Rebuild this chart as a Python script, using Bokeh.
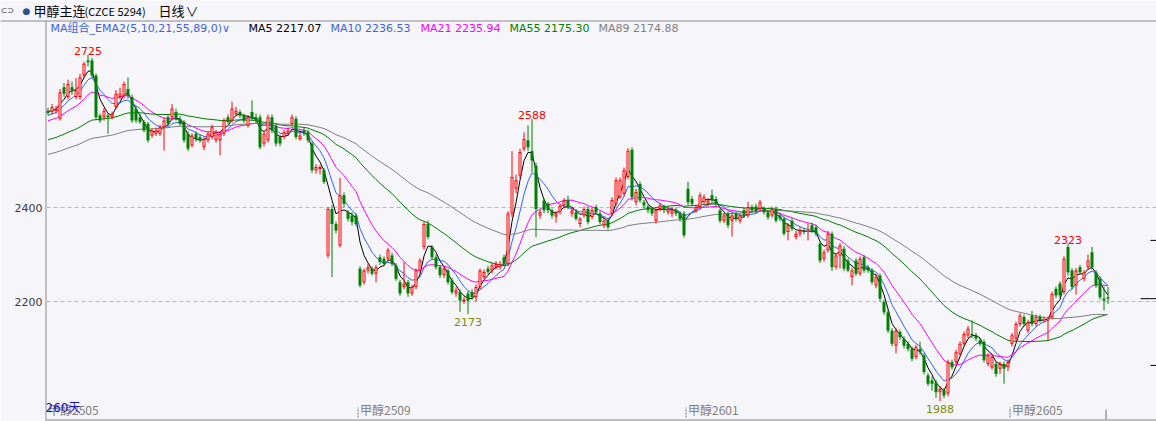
import numpy as np
from bokeh.plotting import figure
from bokeh.models import Range1d, Label, ColumnDataSource, Span
from bokeh.core.properties import value
from bokeh.embed import file_html
from bokeh.resources import INLINE

# ---------------- data (daily candles) ----------------
open_ = [2606, 2603, 2606, 2589, 2656, 2635, 2656, 2635, 2635, 2681,
         2713, 2713, 2681, 2596, 2592, 2596, 2592, 2614, 2635, 2638,
         2652, 2635, 2610, 2592, 2582, 2578, 2553, 2557, 2557, 2571,
         2592, 2592, 2603, 2589, 2582, 2557, 2532, 2557, 2550, 2528,
         2543, 2550, 2543, 2543, 2557, 2592, 2585, 2599, 2603, 2596,
         2574, 2603, 2592, 2592, 2536, 2543, 2592, 2574, 2550, 2550,
         2557, 2578, 2589, 2546, 2564, 2560, 2536, 2479, 2482, 2479,
         2298, 2397, 2365, 2319, 2426, 2390, 2383, 2383, 2270, 2241,
         2266, 2270, 2259, 2294, 2291, 2291, 2298, 2277, 2241, 2231,
         2241, 2217, 2231, 2266, 2316, 2365, 2316, 2294, 2273, 2256,
         2266, 2245, 2217, 2220, 2200, 2217, 2220, 2209, 2231, 2252,
         2270, 2266, 2273, 2273, 2294, 2280, 2387, 2440, 2468, 2525,
         2543, 2520, 2489, 2383, 2415, 2408, 2394, 2381, 2390, 2404,
         2416, 2387, 2390, 2365, 2383, 2397, 2380, 2401, 2387, 2362,
         2372, 2387, 2408, 2422, 2429, 2465, 2523, 2411, 2450, 2411,
         2402, 2397, 2372, 2397, 2401, 2390, 2387, 2394, 2387, 2387,
         2440, 2418, 2394, 2401, 2411, 2408, 2426, 2418, 2394, 2372,
         2387, 2372, 2387, 2372, 2394, 2383, 2401, 2402, 2397, 2397,
         2390, 2383, 2397, 2383, 2376, 2348, 2372, 2337, 2344, 2351,
         2350, 2362, 2358, 2323, 2291, 2309, 2344, 2273, 2298, 2312,
         2287, 2252, 2287, 2259, 2294, 2273, 2266, 2234, 2255, 2199,
         2177, 2138, 2106, 2135, 2121, 2110, 2099, 2082, 2099, 2085,
         2043, 2032, 2028, 2007, 2011, 2004, 2071, 2071, 2088, 2110,
         2128, 2131, 2128, 2117, 2114, 2067, 2060, 2067, 2057, 2067,
         2060, 2110, 2121, 2152, 2167, 2138, 2170, 2152, 2167, 2160,
         2160, 2167, 2227, 2238, 2220, 2316, 2266, 2234, 2273, 2248,
         2273, 2305, 2262, 2248, 2206, 2209]
high = [2612, 2620, 2616, 2652, 2665, 2672, 2668, 2675, 2684, 2710,
        2725, 2718, 2685, 2600, 2612, 2600, 2604, 2650, 2655, 2668,
        2677, 2640, 2615, 2598, 2586, 2582, 2568, 2570, 2576, 2590,
        2598, 2620, 2610, 2594, 2586, 2562, 2558, 2562, 2555, 2550,
        2562, 2576, 2565, 2562, 2590, 2598, 2625, 2614, 2608, 2600,
        2597, 2628, 2600, 2598, 2562, 2598, 2598, 2580, 2555, 2565,
        2570, 2598, 2594, 2560, 2570, 2565, 2540, 2492, 2490, 2484,
        2401, 2405, 2370, 2463, 2432, 2395, 2390, 2388, 2275, 2270,
        2280, 2275, 2278, 2300, 2296, 2314, 2304, 2282, 2246, 2284,
        2246, 2236, 2270, 2292, 2370, 2372, 2320, 2300, 2278, 2275,
        2270, 2250, 2230, 2226, 2210, 2222, 2226, 2236, 2270, 2268,
        2276, 2282, 2286, 2286, 2300, 2392, 2520, 2470, 2525, 2560,
        2575, 2588, 2495, 2396, 2420, 2412, 2398, 2392, 2408, 2420,
        2425, 2400, 2396, 2380, 2402, 2402, 2400, 2406, 2392, 2378,
        2377, 2422, 2464, 2464, 2485, 2526, 2528, 2440, 2455, 2416,
        2407, 2402, 2398, 2410, 2406, 2403, 2400, 2400, 2392, 2392,
        2455, 2424, 2406, 2432, 2428, 2420, 2438, 2424, 2398, 2388,
        2392, 2388, 2392, 2388, 2400, 2412, 2406, 2408, 2416, 2402,
        2395, 2402, 2402, 2388, 2381, 2367, 2377, 2350, 2358, 2356,
        2365, 2368, 2363, 2328, 2310, 2350, 2349, 2303, 2324, 2318,
        2292, 2272, 2292, 2296, 2299, 2278, 2271, 2258, 2260, 2204,
        2182, 2143, 2143, 2140, 2126, 2115, 2104, 2108, 2115, 2090,
        2048, 2040, 2033, 2020, 2016, 2076, 2076, 2097, 2115, 2136,
        2148, 2160, 2133, 2122, 2119, 2090, 2087, 2072, 2072, 2072,
        2076, 2133, 2157, 2175, 2172, 2161, 2180, 2172, 2172, 2168,
        2168, 2221, 2232, 2243, 2296, 2323, 2271, 2271, 2278, 2267,
        2300, 2316, 2267, 2253, 2231, 2231]
low = [2596, 2598, 2600, 2585, 2636, 2630, 2640, 2630, 2630, 2675,
       2700, 2675, 2588, 2580, 2585, 2557, 2588, 2610, 2630, 2632,
       2632, 2580, 2580, 2578, 2560, 2538, 2548, 2552, 2552, 2521,
       2574, 2588, 2585, 2574, 2538, 2520, 2528, 2540, 2538, 2522,
       2538, 2545, 2538, 2511, 2552, 2578, 2580, 2594, 2590, 2580,
       2570, 2585, 2580, 2524, 2530, 2538, 2558, 2530, 2530, 2545,
       2552, 2574, 2545, 2542, 2552, 2538, 2474, 2472, 2470, 2450,
       2292, 2252, 2345, 2315, 2400, 2370, 2362, 2360, 2230, 2236,
       2260, 2255, 2241, 2278, 2275, 2286, 2275, 2244, 2212, 2226,
       2210, 2212, 2226, 2260, 2310, 2332, 2290, 2268, 2250, 2250,
       2236, 2215, 2210, 2178, 2195, 2173, 2204, 2200, 2226, 2248,
       2258, 2260, 2268, 2268, 2275, 2275, 2380, 2430, 2462, 2520,
       2520, 2475, 2337, 2376, 2388, 2388, 2376, 2368, 2385, 2398,
       2396, 2380, 2372, 2358, 2378, 2364, 2375, 2385, 2364, 2356,
       2353, 2382, 2402, 2418, 2424, 2460, 2415, 2405, 2410, 2398,
       2388, 2382, 2366, 2392, 2388, 2385, 2380, 2382, 2370, 2336,
       2405, 2403, 2389, 2396, 2406, 2403, 2410, 2403, 2367, 2367,
       2356, 2338, 2370, 2366, 2378, 2378, 2389, 2388, 2392, 2385,
       2374, 2378, 2368, 2371, 2340, 2330, 2350, 2332, 2338, 2343,
       2330, 2346, 2339, 2282, 2285, 2304, 2265, 2268, 2270, 2265,
       2262, 2234, 2254, 2254, 2261, 2261, 2236, 2228, 2200, 2172,
       2133, 2105, 2090, 2118, 2100, 2094, 2073, 2077, 2087, 2045,
       2020, 2010, 1995, 1988, 1994, 1998, 2055, 2066, 2083, 2105,
       2122, 2122, 2116, 2105, 2070, 2062, 2055, 2040, 2046, 2025,
       2052, 2104, 2116, 2147, 2147, 2133, 2147, 2147, 2155, 2155,
       2117, 2162, 2208, 2208, 2215, 2255, 2226, 2215, 2257, 2243,
       2268, 2268, 2229, 2204, 2181, 2195]
close = [2601, 2614, 2610, 2645, 2642, 2663, 2649, 2649, 2677, 2706,
         2709, 2681, 2592, 2585, 2606, 2592, 2599, 2642, 2642, 2663,
         2638, 2585, 2585, 2582, 2564, 2543, 2564, 2564, 2571, 2585,
         2578, 2610, 2589, 2578, 2543, 2525, 2553, 2546, 2543, 2546,
         2557, 2571, 2560, 2557, 2585, 2582, 2610, 2606, 2596, 2585,
         2592, 2589, 2585, 2528, 2557, 2592, 2564, 2536, 2536, 2560,
         2564, 2592, 2550, 2553, 2557, 2543, 2479, 2486, 2486, 2454,
         2397, 2365, 2351, 2426, 2408, 2376, 2369, 2365, 2234, 2266,
         2273, 2259, 2273, 2284, 2280, 2309, 2280, 2248, 2217, 2238,
         2217, 2231, 2266, 2287, 2365, 2337, 2294, 2273, 2256, 2270,
         2241, 2220, 2224, 2202, 2204, 2202, 2209, 2231, 2266, 2263,
         2263, 2277, 2280, 2280, 2280, 2387, 2465, 2458, 2518, 2546,
         2528, 2500, 2397, 2390, 2394, 2394, 2383, 2387, 2403, 2415,
         2401, 2394, 2376, 2376, 2397, 2369, 2394, 2390, 2369, 2372,
         2358, 2416, 2458, 2458, 2479, 2521, 2422, 2433, 2415, 2404,
         2394, 2387, 2394, 2404, 2394, 2397, 2394, 2387, 2376, 2341,
         2411, 2408, 2401, 2426, 2422, 2415, 2415, 2408, 2372, 2383,
         2362, 2383, 2376, 2383, 2383, 2401, 2394, 2394, 2411, 2390,
         2379, 2397, 2372, 2376, 2344, 2362, 2355, 2344, 2351, 2348,
         2350, 2351, 2344, 2287, 2305, 2344, 2273, 2298, 2319, 2270,
         2266, 2266, 2259, 2291, 2266, 2266, 2241, 2253, 2206, 2177,
         2138, 2110, 2138, 2124, 2106, 2099, 2078, 2103, 2092, 2050,
         2025, 2025, 2007, 2014, 2000, 2071, 2060, 2092, 2110, 2131,
         2142, 2128, 2121, 2110, 2075, 2085, 2082, 2046, 2067, 2057,
         2071, 2128, 2152, 2170, 2152, 2156, 2152, 2167, 2160, 2163,
         2163, 2216, 2213, 2213, 2291, 2262, 2231, 2266, 2262, 2262,
         2287, 2273, 2234, 2209, 2202, 2206]

# linearly weighted moving averages; pre_levels = level of the closes before the window
ma_periods = [5, 10, 21, 55, 89]
ma_pre_levels = [2605, 2595, 2583, 2542, 2511]
ma_colors = ["#000000", "#2f64f5", "#ff00ff", "#008000", "#808080"]
legend_texts = ["MA5 2217.07", "MA10 2236.53", "MA21 2235.94", "MA55 2175.30", "MA89 2174.88"]
legend_colors = ["#000000", "#3c64dc", "#ff00ff", "#008000", "#808080"]
legend_title = "MA组合_EMA2(5,10,21,55,89,0)∨"

contract_labels = ["甲醇2505", "甲醇2509", "甲醇2601", "甲醇2605"]
contract_start = [0, 78, 160, 241]
peak_values = [2725, 2588, 2323]
trough_values = [2173, 1988]
right_marks = [2330, 2206, 2064]
y_ticks = [2200, 2400]
days_text = "260天"
header_name = "甲醇主连"
header_code = "(CZCE 5294)"
header_period = "日线"

# ---------------- layout ----------------
BG = "#f5f5fa"
RED = "#ff0000"
GRN = "#008000"
AX = "#8c8c8c"
W, H = 1156, 421
PXX, PXY = 4.0, 0.47           # px per candle, px per price point
X0 = -47.5 / PXX
X1 = X0 + W / PXX
Y1 = 2400 + 207 / PXY
Y0 = Y1 - H / PXY


def xd(px):
    return X0 + px / PXX


def yd(py):
    return Y1 - py / PXY


o = np.array(open_, float); hi = np.array(high, float)
lo = np.array(low, float); c = np.array(close, float)
n = len(c)
idx = np.arange(n)
inc = c >= o
dec = ~inc
top = np.maximum(o, c); bot = np.minimum(o, c)
mid = (top + bot) / 2
thin = (top - bot) < 1.0 / PXY
top = np.where(thin, mid + 0.5 / PXY, top)
bot = np.where(thin, mid - 0.5 / PXY, bot)

p = figure(width=W, height=H, output_backend="svg", toolbar_location=None,
           x_range=Range1d(X0, X1), y_range=Range1d(Y0, Y1),
           x_axis_location=None, y_axis_location=None,
           min_border=0, background_fill_color=BG, border_fill_color=BG,
           outline_line_color=None)
p.grid.visible = False

# frame lines: header separator, left price-axis line, bottom line
p.add_layout(Span(location=yd(20.5), dimension="width", line_color=AX, line_width=1))
p.segment(x0=[xd(45.5)], y0=[yd(20.5)], x1=[xd(45.5)], y1=[yd(419.5)], line_color=AX, line_width=1)
p.segment(x0=[xd(45)], y0=[yd(419.5)], x1=[X1], y1=[yd(419.5)], line_color=AX, line_width=1)

# price grid + labels
p.segment(x0=[xd(46)] * len(y_ticks), y0=y_ticks, x1=[X1] * len(y_ticks), y1=y_ticks,
          line_color="#b9b9bd", line_dash="4 3", line_width=1)
for t in y_ticks:
    p.add_layout(Label(x=42, y=t, x_units="screen", y_units="data", text=str(t),
                       text_font="DejaVu Sans", text_font_size="11px", text_color="#3a3a3a",
                       text_align="right", text_baseline="middle"))

# moving averages
for per, lvl, col in zip(ma_periods, ma_pre_levels, ma_colors):
    ext = np.concatenate([np.full(per - 1, float(lvl)), c])
    w = np.arange(per, 0, -1, dtype=float)
    vals = np.convolve(ext, w, mode="valid") / w.sum()
    p.line(idx, vals, line_color=col, line_width=1)

# candles
s_inc = ColumnDataSource(dict(x=idx[inc], t=top[inc], b=bot[inc], h=hi[inc], l=lo[inc],
                              ti=top[inc] - 1.0 / PXY, bi=bot[inc] + 1.0 / PXY))
s_dec = ColumnDataSource(dict(x=idx[dec], t=top[dec], b=bot[dec], h=hi[dec], l=lo[dec]))
p.segment(x0="x", y0="h", x1="x", y1="l", source=s_inc, line_color=RED, line_width=1)
p.segment(x0="x", y0="h", x1="x", y1="l", source=s_dec, line_color=GRN, line_width=1)
p.vbar(x="x", width=0.75, top="t", bottom="b", source=s_inc, fill_color=RED, line_alpha=0)
p.vbar(x="x", width=0.25, top="ti", bottom="bi", source=s_inc, fill_color=BG, line_alpha=0)
p.vbar(x="x", width=0.75, top="t", bottom="b", source=s_dec, fill_color=GRN, line_alpha=0)

# extreme labels
pk_x = [int(np.where(hi == v)[0][0]) for v in peak_values]
tr_x = [int(np.where(lo == v)[0][0]) for v in trough_values]
p.text(x=pk_x, y=peak_values, text=[str(v) for v in peak_values],
       text_color=RED, text_font=value("DejaVu Sans"), text_font_size="11px",
       text_align="center", text_baseline="alphabetic", y_offset=-4)
p.text(x=tr_x, y=trough_values, text=[str(v) for v in trough_values],
       text_color="#7f8a00", text_font=value("DejaVu Sans"), text_font_size="11px",
       text_align="center", text_baseline="top", y_offset=4)

# contract switch ticks and labels on the bottom edge
tick_x = [s - 0.5 for s in contract_start[1:]]
p.segment(x0=tick_x, y0=[yd(417)] * len(tick_x), x1=tick_x, y1=[yd(407)] * len(tick_x),
          line_color="#707070", line_dash="2 1", line_width=1)
p.segment(x0=[n - 1.5], y0=[yd(419)], x1=[n - 1.5], y1=[yd(409)],
          line_color="#707070", line_width=1)
for lab, s in zip(contract_labels, contract_start):
    p.add_layout(Label(x=max(s - 0.5, xd(45)), y=12, x_units="data", y_units="screen",
                       text=lab, text_font="Noto Sans CJK SC", text_font_size="12px",
                       text_color="#808080", text_baseline="middle", x_offset=2))
p.add_layout(Label(x=45, y=14, x_units="screen", y_units="screen", text=days_text,
                   text_font="DejaVu Sans, Noto Sans CJK SC", text_font_size="12px",
                   text_color="#1414b4", text_baseline="middle"))

# right-edge price marks
p.segment(x0=[X1 - 16 / PXX if v == close[-1] else X1 - 6 / PXX for v in right_marks],
          y0=right_marks, x1=[X1] * len(right_marks), y1=right_marks,
          line_color="#000000", line_width=1)

# legend row
p.add_layout(Label(x=50, y=393, x_units="screen", y_units="screen", text=legend_title,
                   text_font="DejaVu Sans, Noto Sans CJK SC", text_font_size="11px",
                   text_color="#3c64dc", text_baseline="middle"))
for txt, col, xs in zip(legend_texts, legend_colors, [248, 330, 420, 509, 598]):
    p.add_layout(Label(x=xs, y=393, x_units="screen", y_units="screen", text=txt,
                       text_font="DejaVu Sans", text_font_size="11px", text_color=col,
                       text_baseline="middle"))

# header row
p.add_layout(Label(x=0, y=411, x_units="screen", y_units="screen", text="⊂⊃",
                   text_font="DejaVu Sans", text_font_size="8px", text_color="#333333",
                   text_baseline="middle"))
p.add_layout(Label(x=22, y=411, x_units="screen", y_units="screen", text="●",
                   text_font="DejaVu Sans", text_font_size="9px", text_color="#2a4f9a",
                   text_baseline="middle"))
p.add_layout(Label(x=33, y=411, x_units="screen", y_units="screen", text=header_name,
                   text_font="Noto Sans CJK SC", text_font_size="13px", text_color="#000000",
                   text_baseline="middle"))
p.add_layout(Label(x=84, y=411, x_units="screen", y_units="screen", text=header_code,
                   text_font="Noto Sans CJK SC", text_font_size="11px", text_color="#000000",
                   text_baseline="middle"))
p.add_layout(Label(x=158, y=411, x_units="screen", y_units="screen", text=header_period,
                   text_font="Noto Sans CJK SC", text_font_size="13px", text_color="#000000",
                   text_baseline="middle"))
p.add_layout(Label(x=185, y=411, x_units="screen", y_units="screen", text="∨",
                   text_font="Noto Sans CJK SC", text_font_size="13px", text_color="#000000",
                   text_baseline="middle"))

open("out.html", "w").write(file_html(p, INLINE))
